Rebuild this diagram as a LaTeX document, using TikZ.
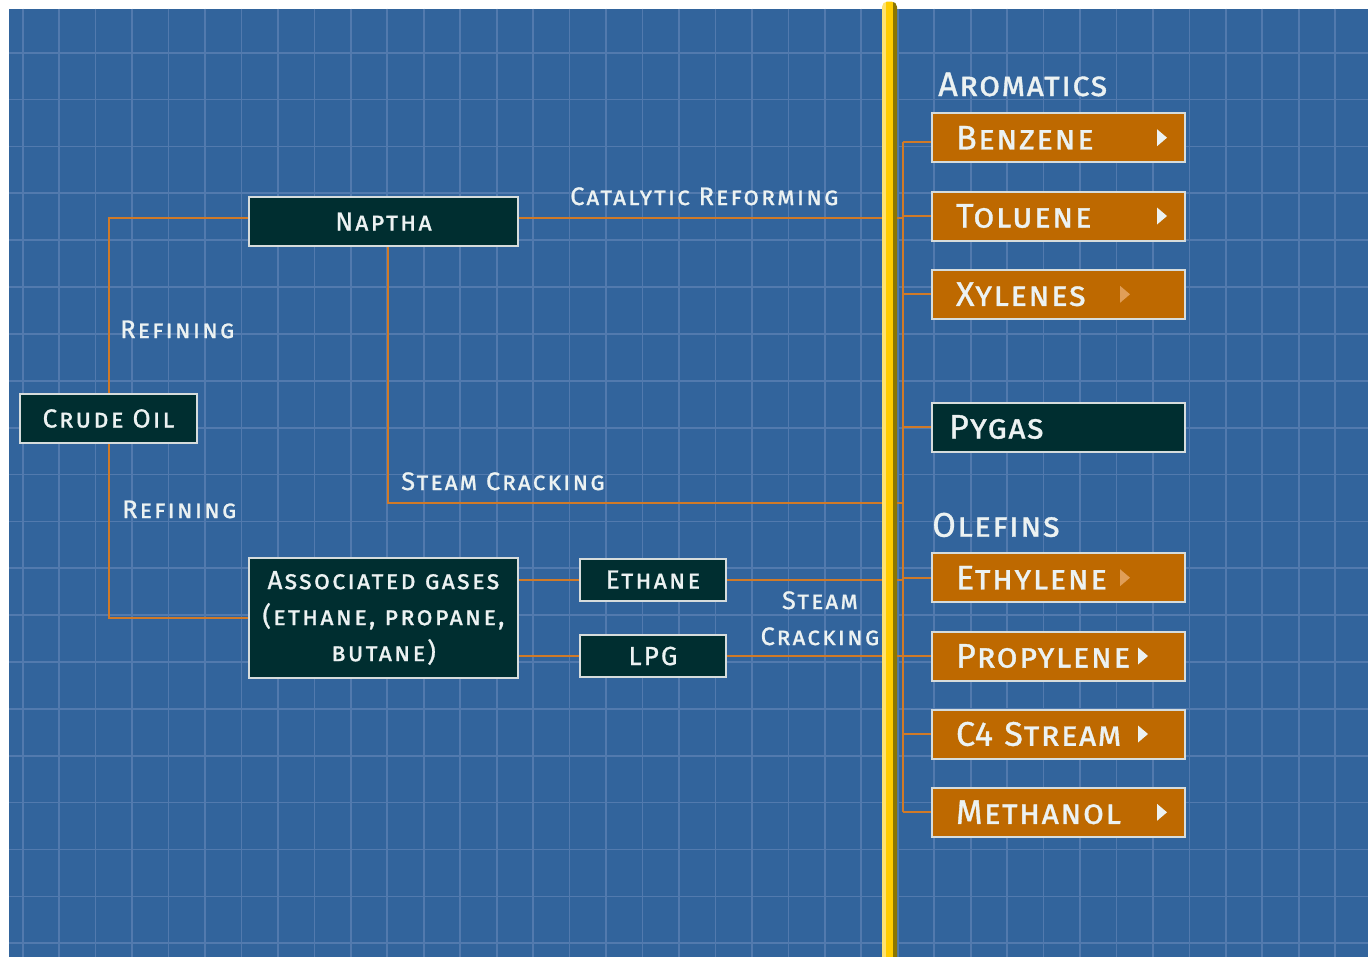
\documentclass[tikz,border=0pt]{standalone}
\usepackage{fontspec}
\setmainfont{Fira Sans}
\newfontfamily\dgfont{Fira Sans}[LetterSpace=8, FakeBold=1]
\newfontfamily\dgbigfont{Fira Sans}[LetterSpace=4, FakeBold=1]
\usetikzlibrary{calc}
\definecolor{bgblue}{RGB}{50,100,156}
\definecolor{gridblue}{RGB}{82,122,174}
\definecolor{wire}{RGB}{208,122,40}
\definecolor{boxorange}{RGB}{190,105,0}
\definecolor{boxdark}{RGB}{0,46,48}
\definecolor{boxedge}{RGB}{214,220,220}
\definecolor{txt}{RGB}{236,242,242}
\definecolor{ylight}{RGB}{255,226,110}
\definecolor{yellowbar}{RGB}{255,204,0}
\definecolor{ydark}{RGB}{140,118,0}
\definecolor{trifade}{RGB}{224,158,88}
\begin{document}
\begin{tikzpicture}[x=0.75pt,y=-0.75pt,
  gridline/.style={draw=gridblue, line width=1.3pt},
  wireline/.style={draw=wire, line width=1.5pt},
  darkbox/.style={draw=boxedge, line width=1.5pt, fill=boxdark, text=txt,
    font=\dgfont\scshape\fontsize{19.6}{27}\selectfont, inner sep=0pt, align=center},
  prodbox/.style={draw=boxedge, line width=1.5pt, fill=boxorange, text=txt,
    font=\dgbigfont\scshape\fontsize{25.6}{30}\selectfont, anchor=west,
    minimum height=36.75pt, text width=153.75pt, inner xsep=18pt, inner ysep=0pt, align=left},
  pygasbox/.style={prodbox, fill=boxdark, inner xsep=12.75pt, text width=164.25pt},
  lbl/.style={text=txt, font=\dgfont\scshape\fontsize{19}{27}\selectfont, inner sep=0pt, anchor=base west},
  biglbl/.style={text=txt, font=\dgbigfont\scshape\fontsize{25.6}{30}\selectfont, inner sep=0pt, anchor=base west},
  tri/.style={fill=txt},
  trif/.style={fill=trifade}]
\useasboundingbox (0,0) rectangle (1368,957);
\fill[white] (0,0) rectangle (1368,957);
\fill[bgblue] (9,8.5) rectangle (1368,957);
\foreach \k in {0,...,36} \draw[gridline] ({22.7+36.46*\k},8.5) -- ({22.7+36.46*\k},957);
\foreach \k in {0,...,19} \draw[gridline] (9,{52.7+46.87*\k}) -- (1368,{52.7+46.87*\k});

% left nodes
\node[darkbox, minimum width=132.75pt, minimum height=36.75pt] (crude) at (108.5,418.5) {Crude Oil};
\node[darkbox, minimum width=201.75pt, minimum height=36.75pt] (naptha) at (383.5,221.5) {Naptha};
\node[darkbox, minimum width=201.75pt, minimum height=90pt] (ag) at (383.5,618) {Associated gases\\(ethane, propane,\\butane)};
\node[darkbox, minimum width=109.5pt, minimum height=31.5pt] (ethane) at (653,579.5) {Ethane};
\node[darkbox, minimum width=109.5pt, minimum height=31.5pt] (lpg) at (653,656) {LPG};

% right boxes
\node[prodbox] (benzene) at (931,137.7) {Benzene};
\node[prodbox] (toluene) at (931,216) {Toluene};
\node[prodbox] (xylenes) at (931,294.3) {Xylenes};
\node[pygasbox] (pygas) at (931,427) {Pygas};
\node[prodbox] (ethylene) at (931,577.7) {Ethylene};
\node[prodbox] (propylene) at (931,656) {Propylene};
\node[prodbox] (c4) at (931,734) {C4 Stream};
\node[prodbox] (methanol) at (931,812.3) {Methanol};

% labels
\node[biglbl] (arom) at (938,96) {Aromatics};
\node[biglbl] (olef) at (932,536.7) {Olefins};
\node[lbl] (ref1) at (120,338) {Refining};
\node[lbl] (ref2) at (122,518) {Refining};
\node[lbl] (cat) at (570,205) {Catalytic Reforming};
\node[lbl] (sc1) at (401,490) {Steam Cracking};
\node[lbl, anchor=north, align=center] (sc2) at (820,591) {Steam\\Cracking};

% triangles
\fill[tri]  ($(benzene.west)+(226,-8.5)$) -- ++(0,17) -- ++(10,-8.5) -- cycle;
\fill[tri]  ($(toluene.west)+(226,-8.5)$) -- ++(0,17) -- ++(10,-8.5) -- cycle;
\fill[trif] ($(xylenes.west)+(189,-8.5)$) -- ++(0,17) -- ++(10,-8.5) -- cycle;
\fill[trif] ($(ethylene.west)+(189,-8.5)$) -- ++(0,17) -- ++(10,-8.5) -- cycle;
\fill[tri]  ($(propylene.west)+(207,-8.5)$) -- ++(0,17) -- ++(10,-8.5) -- cycle;
\fill[tri]  ($(c4.west)+(207,-8.5)$) -- ++(0,17) -- ++(10,-8.5) -- cycle;
\fill[tri]  ($(methanol.west)+(226,-8.5)$) -- ++(0,17) -- ++(10,-8.5) -- cycle;

% connectors
\coordinate (busx) at (903,0);
\coordinate (bz) at ($(benzene.west)+(0,4)$);
\coordinate (nW) at ($(naptha.west)+(0,-4)$);
\coordinate (nE) at ($(naptha.east)+(0,-4)$);
\coordinate (nS) at ($(naptha.south)+(4,0)$);
\coordinate (scEnd) at (903,503);
\draw[wireline] (busx |- bz) -- (busx |- methanol.west);
\draw[wireline] (busx |- bz) -- (bz);
\foreach \b in {toluene,xylenes,pygas,ethylene,propylene,c4,methanol}
  \draw[wireline] (busx |- \b.west) -- (\b.west);
\draw[wireline] (crude.north) |- (nW);
\draw[wireline] (crude.south) |- (ag.west);
\draw[wireline] (nE) -- (nE -| busx);
\draw[wireline] (nS) |- (scEnd);
\draw[wireline] (ag.east |- ethane.west) -- (ethane.west);
\draw[wireline] (ethane.east) -- (ethane.east -| busx);
\draw[wireline] (ag.east |- lpg.west) -- (lpg.west);
\draw[wireline] (lpg.east) -- (lpg.east -| busx);

% yellow bar
\begin{scope}
\clip[rounded corners=4pt] (882,1.5) rectangle (897,975);
\fill[ylight] (880,0) rectangle (885.5,975);
\fill[yellowbar] (885.5,0) rectangle (893,975);
\fill[ydark] (893,0) rectangle (899,975);
\end{scope}
\end{tikzpicture}
\end{document}
